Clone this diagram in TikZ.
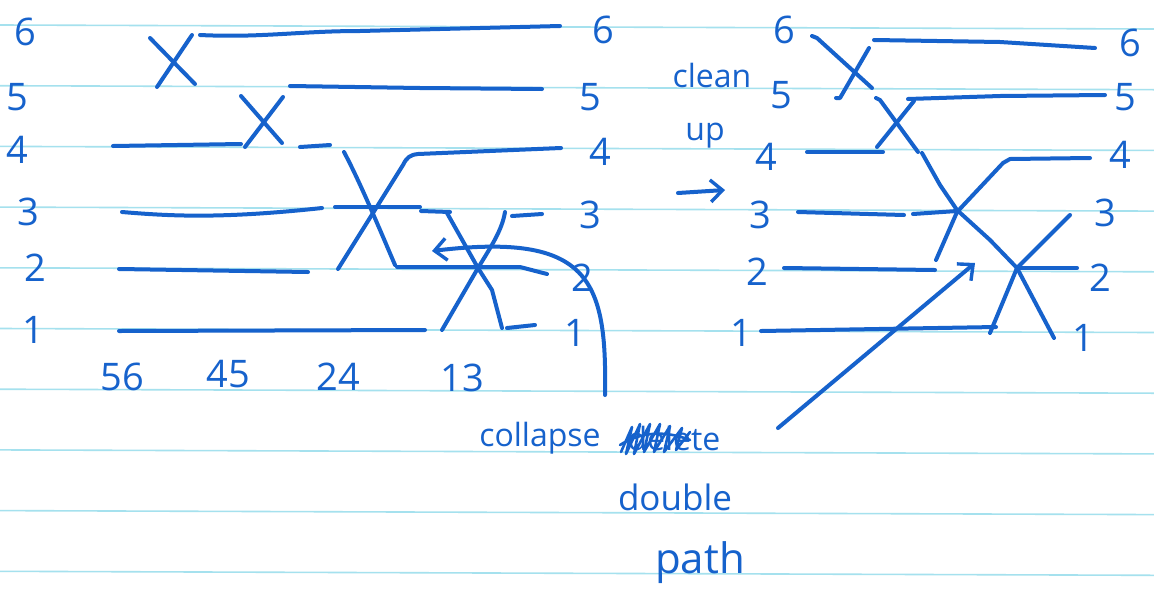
\documentclass[tikz,border=0pt]{standalone}
\usepackage{fontspec}
\setmainfont{Open Sans}
\usetikzlibrary{arrows.meta}
\definecolor{ink}{RGB}{22,98,204}
\definecolor{paper}{RGB}{165,225,238}
\tikzset{
  pen/.style={draw=ink, line width=2pt, line cap=round, line join=round},
  thinpen/.style={draw=ink, line width=1.3pt, line cap=round, line join=round},
  rule/.style={draw=paper, line width=0.8pt},
  digit/.style={text=ink, font=\fontsize{19}{19}\selectfont, inner sep=0pt},
  word/.style={text=ink, font=\fontsize{16}{16}\selectfont, inner sep=0pt},
  barb/.style={-{Straight Barb[length=6pt,width=11pt,line width=1.7pt]}},
}
\begin{document}
\begin{tikzpicture}[x=0.5pt,y=-0.5pt]
\useasboundingbox (0,0) rectangle (1154,600);
\fill[white] (0,0) rectangle (1154,600);
% ruled paper
\foreach \r in {25,85.7,146.4,207.1,267.8,328.5,389.2,449.9,510.6,571.3}
  \draw[rule] (0,\r) -- (1154,\r+4);

% ---------- left diagram: labels ----------
\node[digit] (l6) at (25,32) {6};
\node[digit] (l5) at (17,97) {5};
\node[digit] (l4) at (17,150) {4};
\node[digit] (l3) at (28,212) {3};
\node[digit] (l2) at (35,268) {2};
\node[digit] (l1) at (33,330) {1};
\node[digit] (r6) at (603,30) {6};
\node[digit] (r5) at (590,97) {5};
\node[digit] (r4) at (600,152) {4};
\node[digit] (r3) at (590,215) {3};
\node[digit] (r2) at (582,278) {2};
\node[digit] (r1) at (575,333) {1};
\node[digit] (b56) at (122,377) {56};
\node[digit] (b45) at (228,374) {45};
\node[digit] (b24) at (338,377) {24};
\node[digit] (b13) at (462,378) {13};

% ---------- left diagram: wires ----------
% X1 (56)
\draw[pen] (150,38) -- (195,84);
\draw[pen] (157,87) -- (192,35);
\draw[pen] (200,35) .. controls (260,38) and (300,31) .. (360,31) -- (560,26);
% X2 (45)
\draw[pen] (113,146) -- (241,144);
\draw[pen] (241,96) -- (282,143);
\draw[pen] (245,147) -- (283,97);
\draw[pen] (290,86) -- (420,88) -- (542,89);
\draw[pen] (300,147) -- (330,145);
% wires 3,2,1
\draw[pen] (122,212) .. controls (170,216) and (220,219) .. (322,208);
\draw[pen] (119,269) -- (308,272);
\draw[pen] (119,331) -- (425,330);
% X3 (24)
\draw[pen] (344,152) .. controls (360,182) and (380,230) .. (395,265);
\draw[pen] (338,269) -- (403,165) .. controls (407,157) and (410,155) .. (418,154) -- (561,148);
\draw[pen] (335,207) -- (420,207);
\draw[pen] (421,211) -- (450,212);
\draw[pen] (397,267) -- (520,267) -- (547,274);
% X4 (13)
\draw[pen] (447,213) -- (478,268) -- (492,290) -- (502,328);
\draw[pen] (507,328) -- (535,325);
\draw[pen] (442,330) -- (478,268) .. controls (492,245) and (502,230) .. (505,212);
\draw[pen] (512,216) -- (542,214);
% curved arrow
\coordinate (ca0) at (605,395);
\coordinate (ca1) at (432,251);
\draw[pen,barb] (ca0) .. controls (607,280) and (590,232) .. (ca1);

% ---------- middle text ----------
\node[word] (clean) at (712,75) {clean};
\node[word] (up) at (705,136) {up};
\coordinate (cu0) at (678,193);
\coordinate (cu1) at (725,190);
\draw[pen,barb] (cu0) -- (cu1);

% ---------- right diagram: labels ----------
\node[digit] (ll6) at (784,30) {6};
\node[digit] (ll5) at (781,95) {5};
\node[digit] (ll4) at (766,157) {4};
\node[digit] (ll3) at (760,215) {3};
\node[digit] (ll2) at (757,272) {2};
\node[digit] (ll1) at (741,333) {1};
\node[digit] (rr6) at (1130,43) {6};
\node[digit] (rr5) at (1125,97) {5};
\node[digit] (rr4) at (1120,155) {4};
\node[digit] (rr3) at (1105,213) {3};
\node[digit] (rr2) at (1100,278) {2};
\node[digit] (rr1) at (1083,338) {1};

% ---------- right diagram: wires ----------
\draw[pen] (812,36) -- (817,38) -- (872,88);
\draw[pen] (836,98) -- (840,98) -- (869,48);
\draw[pen] (874,40) -- (1000,42) -- (1095,48);
\draw[pen] (876,98) -- (880,100) -- (918,152);
\draw[pen] (877,147) -- (914,101);
\draw[pen] (908,99) -- (1000,96) -- (1105,95);
\draw[pen] (807,152) -- (883,152);
\draw[pen] (922,153) -- (940,185) -- (957,210) -- (990,240) -- (1017,268) -- (1054,338);
\draw[pen] (936,260) -- (957,212) -- (1003,163) -- (1010,159) -- (1090,158);
\draw[pen] (798,212) -- (904,215);
\draw[pen] (913,214) -- (957,211);
\draw[pen] (784,268) -- (935,270);
\draw[pen] (761,331) -- (996,327);
\draw[pen] (990,333) -- (1017,268) -- (1070,215);
\draw[pen] (1017,268) -- (1077,268);
% straight arrow
\coordinate (sa0) at (778,428);
\coordinate (sa1) at (975,263);
\draw[pen,barb] (sa0) -- (sa1);

% ---------- bottom text ----------
\node[word] (collapse) at (540,438) {collapse};
\node[word] (delete) at (674,438) {delete};
\draw[thinpen] (621,452) -- (632,427) -- (626,454) -- (640,424) -- (634,454) -- (650,424) -- (644,452) -- (660,424) -- (654,452) -- (670,426) -- (664,452) -- (682,428) -- (676,450) -- (690,432);
\draw[thinpen] (620,445) .. controls (640,432) and (665,430) .. (690,440);
\node[word,font=\fontsize{17.5}{17.5}\selectfont] (double) at (675,497) {double};
\node[word,font=\fontsize{21}{21}\selectfont] (path) at (700,563) {path};
\end{tikzpicture}
\end{document}
